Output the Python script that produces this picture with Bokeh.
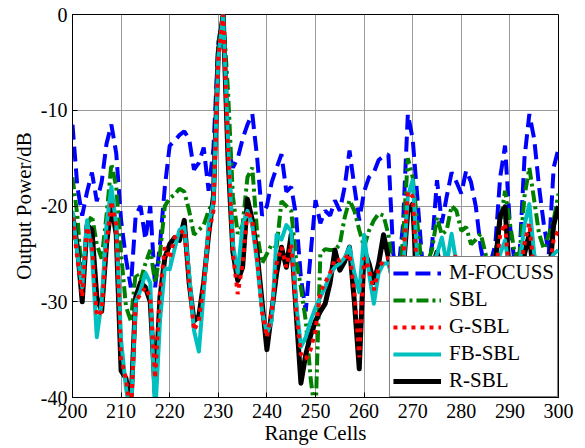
from bokeh.plotting import figure
from bokeh.models import Range1d, FixedTicker, Legend, LegendItem
from bokeh.embed import file_html
from bokeh.resources import INLINE

cells = list(range(200, 301))

m_focuss = [
    -11.5, -18, -21, -18.5, -16.5, -19.5, -17.5, -13.5, -11.5, -14.5,
    -21.5, -25.5, -28.5, -21, -20, -23.5, -20, -28.5, -24, -18,
    -13.7, -13.2, -12.6, -12.2, -13, -16.2, -15.5, -13.9, -18.4, -14,
    -3, 0, -14, -16, -15, -13, -11.5, -10.4, -15, -21,
    -20, -17.5, -16, -14.6, -18.5, -18, -21, -27.5, -31, -25,
    -19.4, -21.8, -20.5, -21, -19.4, -20.5, -18, -14.2, -18, -21.5,
    -18.5, -17, -16.5, -15.2, -14.8, -14.6, -25, -27, -22, -10.4,
    -13, -19.4, -26, -27, -24, -17.3, -21.8, -19, -16.5, -17.5,
    -18.7, -16.3, -17.5, -20.1, -24.3, -27, -26, -24, -17, -13.7,
    -22, -26, -25, -15, -10.4, -13, -18, -22, -25, -16,
    -14]

sbl = [
    -17, -21, -28, -22, -21, -24, -25.5, -21, -15.6, -18,
    -25, -30.5, -32, -27, -27.8, -26, -24.6, -28, -25, -20,
    -19.2, -18.8, -18.2, -18.5, -20.5, -23, -22.5, -22, -20.5, -19.5,
    -3, 0, -8, -19, -22.9, -22, -17, -16, -22.9, -26,
    -25, -24, -24.3, -19.5, -20, -20.5, -25.5, -28.5, -32, -38,
    -42, -25, -24.5, -24.6, -24.6, -24, -21.2, -19.4, -20.5, -22.5,
    -24.3, -22.6, -21.5, -20.8, -21, -23, -27, -28, -23.6, -15,
    -17, -22, -27, -26, -24.5, -21.2, -23, -22.5, -20, -20.5,
    -22.6, -22.2, -24, -23.5, -22.9, -25, -27, -25, -21.8, -18.4,
    -21.8, -25, -25, -19, -16, -19.4, -22.9, -24.5, -23, -21.5,
    -18.7]

g_sbl = [
    -21.2, -25.5, -29.5, -22.2, -24, -31.5, -31, -24, -19.5, -22,
    -36, -38, -42, -30, -29.2, -28.5, -29.5, -38, -29, -24.3,
    -25.5, -23.3, -22.9, -22.5, -28, -33, -32, -28, -23, -20.5,
    -4.5, 0, -14, -25, -29.2, -26, -20.5, -21.5, -25.5, -31,
    -33.7, -31, -26, -24.3, -26.4, -24, -31, -35.5, -36, -35,
    -33, -29, -28, -27, -25.5, -25.7, -25.5, -25, -29, -35.8,
    -25.4, -26.5, -28.8, -26.5, -25.7, -25.4, -28, -30, -26, -18.5,
    -19, -28, -31, -30, -28, -27, -27.5, -28, -26.5, -25,
    -28, -29, -28, -29, -30, -31, -29, -27, -23, -21.8,
    -28, -29, -27, -24, -21.8, -27, -29, -30, -27, -23.5,
    -22.6]

fb_sbl = [
    -20.5, -25, -28.5, -21.5, -25, -33.7, -30, -22, -18, -22,
    -34, -39, -42, -30, -28.8, -27, -28, -42, -32, -26.5,
    -26.6, -24.5, -22.5, -22.2, -27, -33, -35.2, -29, -22, -19.5,
    -4.5, 0, -13, -24, -27, -22, -20.5, -22, -26, -31,
    -33.3, -32, -23, -23.5, -22, -22.6, -30, -34.7, -33.7, -32,
    -30.6, -29.5, -28.5, -27.1, -26.4, -26, -25.4, -24.3, -27, -29,
    -23, -27, -30.2, -27, -26, -26, -28, -29, -27, -19,
    -17.3, -26, -30, -29, -26.5, -25, -23.3, -26, -22.9, -26,
    -28, -27, -28.5, -28, -29, -30, -28, -27, -25, -23.6,
    -27, -28, -26, -22, -19.8, -25, -27, -28, -26, -25,
    -24.6]

r_sbl = [
    -20.8, -24.3, -30, -22, -22.5, -29.5, -31, -24, -19.8, -23,
    -37.2, -38, -41, -29.5, -28, -28.5, -30, -39.5, -29.5, -25.4,
    -24, -23.3, -23.6, -21.5, -28, -32, -31.5, -28, -23, -19,
    -4, 0, -15, -24.8, -27.8, -26.4, -19.3, -21.5, -25, -30,
    -35, -31, -27, -24.3, -26.4, -23, -31, -38.5, -35.5, -33.5,
    -32, -31, -30.2, -28, -24.6, -26.7, -25.8, -24.3, -30, -37,
    -24.6, -26, -28, -26, -23, -25.4, -28, -30, -27, -20.5,
    -19.8, -29, -32, -30, -26.5, -24.8, -27, -29, -27, -28,
    -29, -30, -28, -30, -31, -32, -30, -26, -21, -20.1,
    -28, -31, -29, -25, -22.9, -28, -30, -31, -28, -22,
    -20]

x_ticks = [200, 210, 220, 230, 240, 250, 260, 270, 280, 290, 300]
y_ticks = [-40, -30, -20, -10, 0]
y_tick_labels = ["-40", "-30", "-20", "-10", "0"]
series_names = ["M-FOCUSS", "SBL", "G-SBL", "FB-SBL", "R-SBL"]

FONT = "Liberation Serif"

p = figure(width=582, height=448, output_backend="svg", toolbar_location=None,
           x_range=Range1d(200, 300), y_range=Range1d(-40, 0),
           min_border_left=72, min_border_right=24, min_border_top=14,
           min_border_bottom=51)

p.outline_line_color = "black"
p.outline_line_width = 1
p.background_fill_color = "white"
p.border_fill_color = "white"

for ax in (p.xaxis[0], p.yaxis[0]):
    ax.major_tick_in = 5
    ax.major_tick_out = 0
    ax.minor_tick_in = 0
    ax.minor_tick_out = 0
    ax.axis_line_color = "black"
    ax.major_tick_line_color = "black"
    ax.major_label_text_font = FONT
    ax.major_label_text_font_size = "20px"
    ax.major_label_text_color = "black"
    ax.axis_label_text_font = FONT
    ax.axis_label_text_font_size = "21px"
    ax.axis_label_text_font_style = "normal"
    ax.axis_label_text_color = "black"

p.xaxis.ticker = FixedTicker(ticks=x_ticks)
p.yaxis.ticker = FixedTicker(ticks=y_ticks)
p.yaxis.major_label_overrides = {t: l for t, l in zip(y_ticks, y_tick_labels)}
p.xaxis.axis_label = "Range Cells"
p.yaxis.axis_label = "Output Power/dB"
p.xaxis.major_label_standoff = 6
p.xaxis.axis_label_standoff = 0
p.yaxis.major_label_standoff = 5
p.yaxis.axis_label_standoff = 2

p.grid.grid_line_color = "#9a9a9a"
p.grid.grid_line_width = 1

r_blue = p.line(cells, m_focuss, line_color="#0000ff", line_width=4, line_dash="15 7")
r_green = p.line(cells, sbl, line_color="#008000", line_width=4, line_dash="12 4 3 4")
r_black = p.line(cells, r_sbl, line_color="black", line_width=5, line_join="round")
r_cyan = p.line(cells, fb_sbl, line_color="#00bfbf", line_width=4, line_join="round")
r_red = p.line(cells, g_sbl, line_color="#ff0000", line_width=4, line_dash="4 5")

legend = Legend(items=[
    LegendItem(label=series_names[0], renderers=[r_blue]),
    LegendItem(label=series_names[1], renderers=[r_green]),
    LegendItem(label=series_names[2], renderers=[r_red]),
    LegendItem(label=series_names[3], renderers=[r_cyan]),
    LegendItem(label=series_names[4], renderers=[r_black]),
], location="bottom_right")
legend.margin = 0
legend.padding = 3
legend.spacing = 2
legend.glyph_width = 48
legend.glyph_height = 22
legend.label_height = 22
legend.label_standoff = 8
legend.label_text_font = FONT
legend.label_text_font_size = "21px"
legend.label_text_color = "black"
legend.border_line_color = "black"
legend.border_line_width = 1
legend.background_fill_color = "white"
legend.background_fill_alpha = 1.0
p.add_layout(legend)

open("out.html", "w").write(file_html(p, INLINE))
